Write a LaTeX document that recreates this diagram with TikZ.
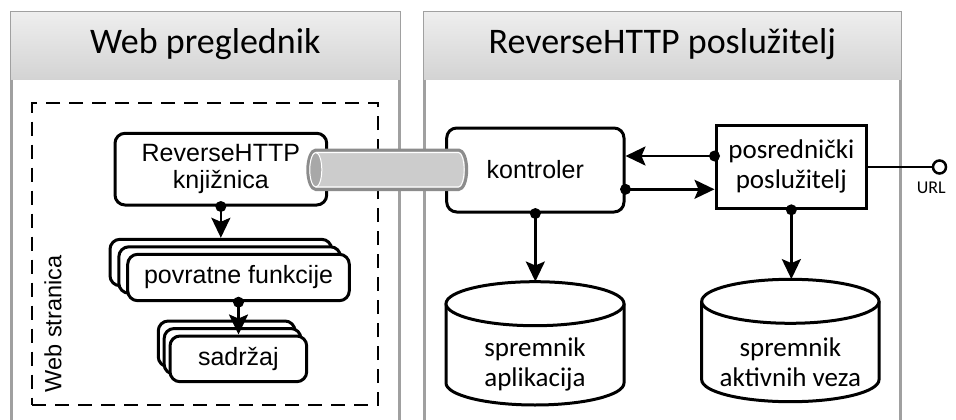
\documentclass[tikz,border=0pt]{standalone}
\usepackage{fontspec}
\setmainfont{Carlito}
\newfontfamily\arialf{Liberation Sans}
\usetikzlibrary{arrows.meta,calc}
\definecolor{paneledge}{HTML}{A0A0A0}
\definecolor{headtop}{HTML}{EEEEEE}
\definecolor{headbot}{HTML}{D3D3D3}
\definecolor{pipeedge}{HTML}{8C8C8C}
\definecolor{pipefill}{HTML}{CCCCCC}
\definecolor{pipeend}{HTML}{A8A8A8}
\begin{document}
\begin{tikzpicture}[x=1pt,y=-1pt,
  rbox/.style={draw=black, line width=3pt, fill=white, rounded corners=10pt, inner sep=0pt, align=center, font=\arialf\fontsize{25}{27.5}\selectfont},
  sbox/.style={draw=black, line width=3pt, fill=white, inner sep=0pt, align=center, font=\fontsize{27}{30}\selectfont},
  head/.style={anchor=base, font=\fontsize{36}{40}\selectfont},
  arr/.style={line width=2.5pt, -{Stealth[length=20pt,width=19pt,inset=4pt]}},
  dot/.style={circle, fill=black, inner sep=0pt, minimum size=11pt},
  cylline/.style={draw=black, line width=3pt, fill=white},
  cyltext/.style={align=center, font=\fontsize{27}{30}\selectfont, inner sep=0pt},
  frame/.style={draw=black, line width=2pt, dash pattern=on 14pt off 9pt, inner sep=0pt}
]
\useasboundingbox (0,0) rectangle (956,420);

% panels
\fill[white] (10,11.7) rectangle (400.7,425);
\shade[top color=headtop,bottom color=headbot] (10,11.7) rectangle (400.7,80);
\draw[paneledge, line width=1pt] (10,80) -- (10,11.7) -- (400.7,11.7) -- (400.7,80);
\draw[paneledge, line width=2.5pt] (11.3,80) -- (11.3,425) (399.4,80) -- (399.4,425);
\node[head] (h1) at (205.3,54) {Web preglednik};

\fill[white] (423,11.7) rectangle (901.7,425);
\shade[top color=headtop,bottom color=headbot] (423,11.7) rectangle (901.7,80);
\draw[paneledge, line width=1pt] (423,80) -- (423,11.7) -- (901.7,11.7) -- (901.7,80);
\draw[paneledge, line width=2.5pt] (424.3,80) -- (424.3,425) (900.4,80) -- (900.4,425);
\node[head] (h2) at (662.3,54) {ReverseHTTP poslužitelj};

% web page frame
\node[frame, minimum width=346pt, minimum height=301.7pt] (page) at (205.3,254.15) {};
\node[rotate=90, font=\arialf\fontsize{23.5}{27}\selectfont, inner sep=0pt] (ws) at (53,324) {Web stranica};

% library box
\node[rbox, minimum width=211.7pt, minimum height=71.7pt] (rh) at (220.85,169.15) {ReverseHTTP\\knjižnica};

% callback stack
\node[rbox, minimum width=221.6pt, minimum height=46.4pt] (pf3) at (220.8,262.5) {};
\node[rbox, minimum width=221.6pt, minimum height=46.4pt] (pf2) at (229.65,270) {};
\node[rbox, minimum width=221.6pt, minimum height=46.4pt] (pf) at (238.5,277.5) {povratne funkcije};

% content stack
\node[rbox, minimum width=136.7pt, minimum height=45.7pt] (sd3) at (226.6,343.85) {};
\node[rbox, minimum width=136.7pt, minimum height=45.7pt] (sd2) at (232.5,351.35) {};
\node[rbox, minimum width=136.7pt, minimum height=45.7pt] (sd) at (238.35,358.85) {sadržaj};

% server side
\node[rbox, minimum width=177.3pt, minimum height=84pt] (kon) at (535.35,170) {kontroler};
\node[sbox, minimum width=150.7pt, minimum height=83.3pt] (pos) at (791.35,166.65) {posrednički\\poslužitelj};

% cylinders
\draw[cylline] (446,303.7) -- (446,383) arc[start angle=180, end angle=0, x radius=89, y radius=22] -- (624,303.7);
\draw[cylline] (535,303.7) ellipse[x radius=89, y radius=22];
\node[inner sep=0pt, minimum width=178pt, minimum height=123.3pt] (cyl1) at (535,343.35) {};
\node[cyltext] (t1) at (535,364.5) {spremnik\\aplikacija};

\draw[cylline] (701.7,301.3) -- (701.7,379.7) arc[start angle=180, end angle=0, x radius=88.65, y radius=22] -- (879,301.3);
\draw[cylline] (790.35,301.3) ellipse[x radius=88.65, y radius=22];
\node[inner sep=0pt, minimum width=177.3pt, minimum height=122.4pt] (cyl2) at (790.35,340.5) {};
\node[cyltext] (t2) at (790.35,362) {spremnik\\aktivnih veza};

% URL endpoint
\node[circle, draw=black, line width=2.5pt, fill=white, minimum size=13pt, inner sep=0pt] (url) at (939.5,167) {};
\node[anchor=base, font=\fontsize{18}{20}\selectfont, inner sep=0pt] (urll) at (931.3,193.3) {URL};
\draw[line width=2.5pt] (pos.east |- url) -- (url);

% connectors
\coordinate (ytop) at (0,156);
\coordinate (ybot) at (0,189.3);
\draw[arr] (rh.south) -- (rh.south |- pf3.north);
\draw[arr] (pf.south) -- (pf.south |- sd.north);
\draw[arr] (pos.west |- ytop) -- (kon.east |- ytop);
\draw[arr] (kon.east |- ybot) -- (pos.west |- ybot);
\draw[arr] (kon.south) -- (kon.south |- cyl1.north);
\draw[arr] (pos.south) -- (pos.south |- cyl2.north);

\node[dot] (d1) at (rh.south) {};
\node[dot] (d2) at (pf.south) {};
\node[dot] (d3) at (pos.west |- ytop) {};
\node[dot] (d4) at (kon.east |- ybot) {};
\node[dot] (d5) at (kon.south) {};
\node[dot] (d6) at (pos.south) {};

% pipe between library and controller
\draw[line width=3pt, draw=pipeedge, fill=pipefill] (315.8,150) -- (458.7,150) arc[start angle=-90, end angle=90, x radius=8, y radius=19.75] -- (315.8,189.5) arc[start angle=90, end angle=270, x radius=8, y radius=19.75] -- cycle;
\draw[white, line width=0.9pt] (315.8,152.6) -- (458.7,152.6) arc[start angle=-90, end angle=90, x radius=5.4, y radius=17.15] -- (315.8,186.9);
\draw[white, line width=1pt, fill=pipeend] (315.8,169.75) ellipse[x radius=6, y radius=17.2];
\end{tikzpicture}
\end{document}
